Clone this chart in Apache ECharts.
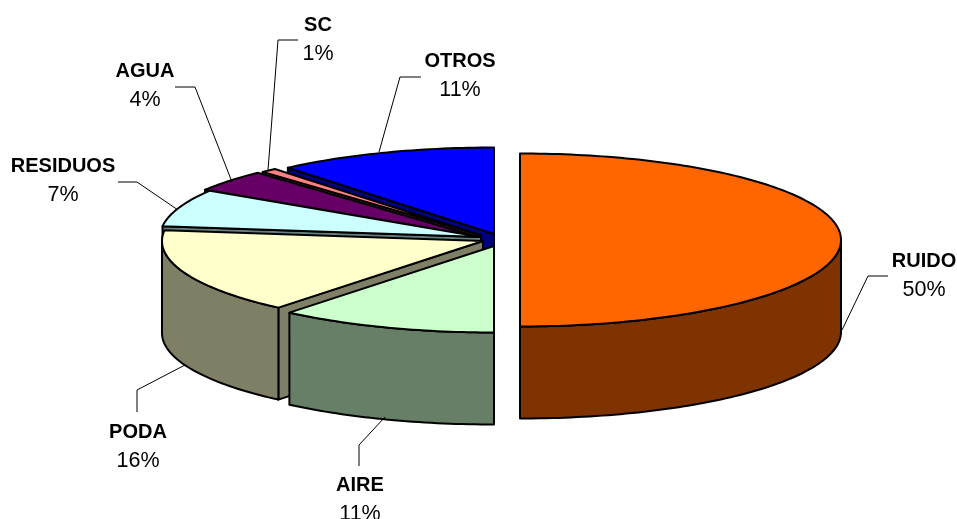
<!DOCTYPE html>
<html>
<head>
<meta charset="utf-8">
<script src="https://cdn.jsdelivr.net/npm/echarts@6/dist/echarts.min.js"></script>
<style>html,body{margin:0;padding:0;background:#fff}#c{width:957px;height:519px}</style>
</head>
<body>
<div id="c"></div>
<script>
// Data, clockwise from 12 o'clock (shares)
const categories = ['RUIDO', 'AIRE', 'PODA', 'RESIDUOS', 'AGUA', 'SC', 'OTROS'];
const values = [50, 11, 16, 7, 4.1, 0.8, 11.1];

// Styles
const topColors = ['#FF6600', '#CCFFCC', '#FFFFCC', '#CCFFFF', '#660066', '#FF8080', '#0000FF'];
const sideColors = ['#7F3300', '#667F66', '#7F7F66', '#667F7F', '#330033', '#7F4040', '#00007F'];

// Projection of the exploded 3D pie
const RX = 321, RY = 86.5, DEPTH = 92;
const sliceCentres = [[520, 240], [494, 246], [483, 241], [481, 237], [476, 236.2], [481, 235.3], [494, 234]];
const drawOrder = [6, 5, 4, 3, 2, 1, 0].reduce((m, s, i) => { m[s] = i; return m; }, {});

// Label placement
const labelCentres = [[924, 261], [360, 485], [138, 432], [63, 166], [145, 71], [318, 25], [460, 61]];
const LINE_GAP = 29.5;
const leaders = [
  [[888, 276], [868, 276], [842, 330]],
  [[359, 466], [359, 445], [385, 417]],
  [[137, 412], [137, 390], [185, 365]],
  [[118, 182], [137, 182], [178, 210]],
  [[175, 87], [195, 87], [232, 182]],
  [[298, 40], [278, 40], [268, 170]],
  [[421, 77], [400, 77], [379, 152]]
];

const total = values.reduce((a, b) => a + b, 0);
const angles = [];
let acc = 0;
values.forEach(v => { angles.push([acc / total * 2 * Math.PI, (acc + v) / total * 2 * Math.PI]); acc += v; });

function pt(c, th, dz) {
  return [c[0] + RX * Math.sin(th), c[1] - RY * Math.cos(th) + (dz || 0)];
}
function arc(c, a, b, dz) {
  const n = Math.max(2, Math.ceil((b - a) / 0.02));
  const out = [];
  for (let i = 0; i <= n; i++) out.push(pt(c, a + (b - a) * i / n, dz));
  return out;
}
const stroke = { stroke: '#000', lineWidth: 2, lineJoin: 'round' };

function renderSlice(params) {
  const i = params.dataIndex;
  const c = sliceCentres[i];
  const [a, b] = angles[i];
  const children = [];
  const z = drawOrder[i] * 10;
  const face = (points, fill, dz) => children.push({
    type: 'polygon', z2: z + dz, shape: { points },
    style: Object.assign({ fill }, stroke)
  });
  // radial cut faces that look toward the viewer
  if (Math.sin(a) < -1e-6) {
    const e = pt(c, a);
    face([c, e, [e[0], e[1] + DEPTH], [c[0], c[1] + DEPTH]], sideColors[i], 1);
  }
  if (Math.sin(b) > 1e-6) {
    const e = pt(c, b);
    face([c, e, [e[0], e[1] + DEPTH], [c[0], c[1] + DEPTH]], sideColors[i], 1);
  }
  // curved outer wall (front half only)
  const w0 = Math.max(a, Math.PI / 2), w1 = Math.min(b, 3 * Math.PI / 2);
  if (w1 > w0) {
    face(arc(c, w0, w1, 0).concat(arc(c, w0, w1, DEPTH).reverse()), sideColors[i], 2);
  }
  // top
  face([c].concat(arc(c, a, b, 0)), topColors[i], 3);
  return { type: 'group', children };
}

function renderLabel(params) {
  const i = params.dataIndex;
  const [x, y] = labelCentres[i];
  const pct = Math.round(values[i] / total * 100) + '%';
  const base = { fontFamily: '"Liberation Sans", Arial, sans-serif', fill: '#000', align: 'center', verticalAlign: 'middle' };
  return {
    type: 'group',
    children: [
      { type: 'polyline', z2: 500, shape: { points: leaders[i] }, style: { stroke: '#000', lineWidth: 1, fill: null } },
      { type: 'text', z2: 501, style: Object.assign({}, base, { text: categories[i], x, y, fontWeight: 'bold', fontSize: 20 }) },
      { type: 'text', z2: 501, style: Object.assign({}, base, { text: pct, x, y: y + LINE_GAP, fontSize: 21.5 }) }
    ]
  };
}

const chart = echarts.init(document.getElementById('c'), null, { renderer: 'canvas' });
const rows = categories.map((n, i) => ({ name: n, value: values[i] }));
chart.setOption({
  animation: false,
  backgroundColor: '#fff',
  tooltip: { show: false },
  series: [
    { type: 'custom', coordinateSystem: 'none', silent: true, renderItem: renderSlice, data: rows, z: 2 },
    { type: 'custom', coordinateSystem: 'none', silent: true, renderItem: renderLabel, data: rows, z: 3 }
  ]
});
</script>
</body>
</html>
